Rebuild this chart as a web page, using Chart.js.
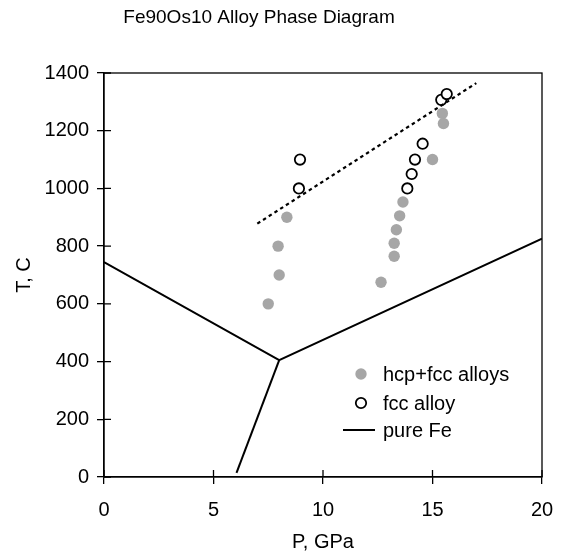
<!DOCTYPE html>
<html>
<head>
<meta charset="utf-8">
<script src="https://cdn.jsdelivr.net/npm/chart.js@4"></script>
<style>
  html, body { margin: 0; padding: 0; background: #fff; }
</style>
</head>
<body>
<canvas id="myChart" width="562" height="555"></canvas>
<script>
  // *****************Data*****************
  const X_TICKS = [0, 5, 10, 15, 20];
  const Y_TICKS = [0, 200, 400, 600, 800, 1000, 1200, 1400];

  // hcp+fcc alloys (grey dots)
  const hcpP = [7.5, 8.0, 7.95, 8.35, 12.65, 13.25, 13.25, 13.35, 13.5, 13.65, 15.0, 15.5, 15.45];
  const hcpT = [600, 700, 800, 900, 675, 765, 810, 857, 905, 953, 1100, 1225, 1260];

  // fcc alloy (open circles)
  const fccP = [8.9, 8.95, 13.85, 14.05, 14.2, 14.55, 15.4, 15.65];
  const fccT = [1000, 1100, 1000, 1050, 1100, 1155, 1307, 1327];

  // dashed boundary
  const dashP = [7.0, 17.0];
  const dashT = [878, 1365];

  // pure Fe phase boundaries
  const feP = [0, 8.0, 20];
  const feT = [745, 405, 826];
  const fe2P = [8.0, 6.05];
  const fe2T = [405, 14];

  const FONT = "'Liberation Sans', Arial, sans-serif";
  const GREY = "#a6a6a6";

  const pts = (xs, ys) => xs.map((x, i) => ({ x: x, y: ys[i] }));

  // *****************Plugins*****************
  const framePlugin = {
    id: "frame",
    afterDatasetsDraw(chart) {
      const { ctx, chartArea: a, scales } = chart;
      ctx.save();
      ctx.strokeStyle = "#000";
      ctx.lineWidth = 1.3;
      ctx.strokeRect(a.left, a.top, a.right - a.left, a.bottom - a.top);
      // inner half of the crossing tick marks
      ctx.beginPath();
      X_TICKS.forEach((v) => {
        const px = scales.x.getPixelForValue(v);
        ctx.moveTo(px, a.bottom);
        ctx.lineTo(px, a.bottom - 7);
      });
      Y_TICKS.forEach((v) => {
        const py = scales.y.getPixelForValue(v);
        ctx.moveTo(a.left, py);
        ctx.lineTo(a.left + 7, py);
      });
      ctx.stroke();
      ctx.restore();
    },
    afterDraw(chart) {
      const { ctx } = chart;
      ctx.save();
      // title
      ctx.fillStyle = "#000";
      ctx.font = "19px " + FONT;
      ctx.textAlign = "center";
      ctx.textBaseline = "middle";
      ctx.fillText("Fe90Os10 Alloy Phase Diagram", 259, 18);

      // legend
      const ds = chart.data.datasets;
      const items = [ds[0], ds[1], ds[3]];
      const ys = [374, 403, 430];
      ctx.font = "20px " + FONT;
      ctx.textAlign = "left";
      items.forEach((d, i) => {
        const y = ys[i];
        if (d.showLine) {
          ctx.strokeStyle = d.borderColor;
          ctx.lineWidth = d.borderWidth;
          ctx.beginPath();
          ctx.moveTo(343, y);
          ctx.lineTo(375, y);
          ctx.stroke();
        } else {
          ctx.beginPath();
          ctx.arc(361, y, d.pointRadius, 0, Math.PI * 2);
          ctx.fillStyle = d.pointBackgroundColor;
          ctx.fill();
          if (d.pointBorderWidth > 0) {
            ctx.strokeStyle = d.pointBorderColor;
            ctx.lineWidth = d.pointBorderWidth;
            ctx.stroke();
          }
        }
        ctx.fillStyle = "#000";
        ctx.fillText(d.label, 383, y + 1);
      });
      ctx.restore();
    },
  };

  // *****************Chart*****************
  const data = {
    datasets: [
      {
        label: "hcp+fcc alloys",
        data: pts(hcpP, hcpT),
        showLine: false,
        pointRadius: 5.7,
        pointBackgroundColor: GREY,
        pointBorderColor: GREY,
        pointBorderWidth: 0,
        order: 3,
      },
      {
        label: "fcc alloy",
        data: pts(fccP, fccT),
        showLine: false,
        pointRadius: 5.2,
        pointBackgroundColor: "#fff",
        pointBorderColor: "#000",
        pointBorderWidth: 1.8,
        order: 2,
      },
      {
        label: "boundary",
        data: pts(dashP, dashT),
        showLine: true,
        borderColor: "#000",
        borderWidth: 2.2,
        borderDash: [3.5, 3.3],
        pointRadius: 0,
        order: 1,
      },
      {
        label: "pure Fe",
        data: pts(feP, feT),
        showLine: true,
        borderColor: "#000",
        borderWidth: 2,
        pointRadius: 0,
        order: 4,
      },
      {
        label: "pure Fe 2",
        data: pts(fe2P, fe2T),
        showLine: true,
        borderColor: "#000",
        borderWidth: 2,
        pointRadius: 0,
        order: 4,
      },
    ],
  };

  const tickFont = { family: FONT, size: 20 };

  const config = {
    type: "scatter",
    data: data,
    plugins: [framePlugin],
    options: {
      responsive: false,
      devicePixelRatio: 1,
      animation: false,
      layout: { padding: { top: 73, right: 20, left: 0, bottom: 0 } },
      plugins: {
        legend: { display: false },
        title: { display: false },
        tooltip: { enabled: false },
      },
      scales: {
        x: {
          type: "linear",
          min: 0,
          max: 20,
          afterFit: (s) => { s.height = 78; s.paddingLeft = 0; s.paddingRight = 0; },
          afterBuildTicks: (s) => { s.ticks = X_TICKS.map((v) => ({ value: v })); },
          ticks: { color: "#000", font: tickFont, padding: 14, maxRotation: 0, callback: (v) => String(v) },
          grid: { display: true, drawOnChartArea: false, drawTicks: true, tickLength: 7, color: "#000", lineWidth: 1.3 },
          border: { display: true, color: "#000", width: 1.3 },
          title: { display: true, text: "P, GPa", color: "#000", font: { family: FONT, size: 20 }, padding: { top: 0, bottom: 1 } },
        },
        y: {
          type: "linear",
          min: 0,
          max: 1400,
          afterFit: (s) => { s.width = 104; s.paddingTop = 0; s.paddingBottom = 0; },
          afterBuildTicks: (s) => { s.ticks = Y_TICKS.map((v) => ({ value: v })); },
          ticks: { color: "#000", font: tickFont, padding: 8, callback: (v) => String(v) },
          grid: { display: true, drawOnChartArea: false, drawTicks: true, tickLength: 7, color: "#000", lineWidth: 1.3 },
          border: { display: true, color: "#000", width: 1.3 },
          title: { display: true, text: "T, C", color: "#000", font: { family: FONT, size: 20 }, padding: { top: 12, bottom: 0 } },
        },
      },
    },
  };

  const myChart = new Chart(document.getElementById("myChart"), config);
</script>
</body>
</html>
